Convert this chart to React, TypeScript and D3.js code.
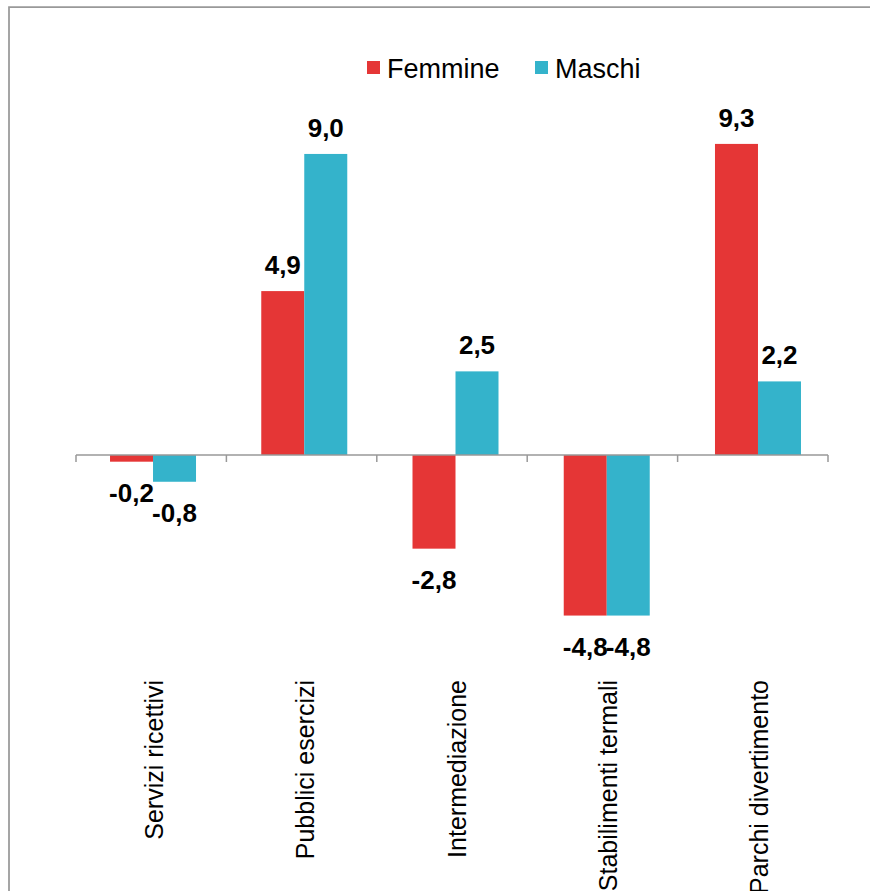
import React, { useEffect, useRef } from 'react';
import * as d3 from 'd3';

const categories = [
    'Servizi ricettivi',
    'Pubblici esercizi',
    'Intermediazione',
    'Stabilimenti termali',
    'Parchi divertimento',
];
const seriesNames = ['Femmine', 'Maschi'];
const femmine = [-0.2, 4.9, -2.8, -4.8, 9.3];
const maschi = [-0.8, 9.0, 2.5, -4.8, 2.2];
const colors = ['#e53636', '#34b3cb'];

const width = 870;
const height = 891;
const font = '"Liberation Sans", Arial, sans-serif';

const fmt = (v: number) => v.toFixed(1).replace('.', ',');

const App: React.FC = () => {
    const svgRef = useRef<SVGSVGElement>(null);

    useEffect(() => {
        if (!svgRef.current) return;

        const svg = d3.select(svgRef.current);
        svg.selectAll('*').remove();

        // outer frame: only the top and left edges are inside the picture
        svg.append('path')
            .attr('d', `M9,${height}V7H${width}`)
            .attr('fill', 'none')
            .attr('stroke', '#999')
            .attr('stroke-width', 1.75);

        // axis bands and bar bands are a touch different in the original
        const xAxis = d3.scaleBand<string>()
            .domain(categories)
            .range([76, 828])
            .padding(0);

        const x = d3.scaleBand<string>()
            .domain(categories)
            .range([77.4, 833.6])
            .padding(0);

        const y = d3.scaleLinear()
            .domain([-6, 10])
            .range([455 + 6 * 33.45, 455 - 10 * 33.45]);

        const barW = 43;
        const series = [femmine, maschi];

        series.forEach((vals, si) => {
            const g = svg.append('g');
            g.selectAll('rect')
                .data(vals)
                .join('rect')
                .attr('x', (_, i) => x(categories[i])! + x.bandwidth() / 2 - barW + si * barW)
                .attr('y', d => y(Math.max(0, d)))
                .attr('width', barW)
                .attr('height', d => Math.abs(y(d) - y(0)))
                .attr('fill', colors[si]);

            g.selectAll('text')
                .data(vals)
                .join('text')
                .attr('x', (_, i) => x(categories[i])! + x.bandwidth() / 2 - barW / 2 + si * barW)
                .attr('y', d => d >= 0 ? y(d) - 17 : y(d) + 40)
                .attr('text-anchor', 'middle')
                .attr('font-family', font)
                .attr('font-weight', 'bold')
                .attr('font-size', 26)
                .attr('fill', '#000')
                .text(d => fmt(d));
        });

        // category axis at zero
        const axis = svg.append('g');
        axis.append('line')
            .attr('x1', 76).attr('x2', 828)
            .attr('y1', y(0)).attr('y2', y(0))
            .attr('stroke', '#999')
            .attr('stroke-width', 1.5);

        const ticks = categories.map(c => xAxis(c)!).concat([828]);
        axis.selectAll('line.tick')
            .data(ticks)
            .join('line')
            .attr('class', 'tick')
            .attr('x1', d => d).attr('x2', d => d)
            .attr('y1', y(0)).attr('y2', y(0) + 7)
            .attr('stroke', '#999')
            .attr('stroke-width', 1.5);

        svg.append('g')
            .selectAll('text')
            .data(categories)
            .join('text')
            .attr('transform', d => `translate(${x(d)! + x.bandwidth() / 2 + 10},680) rotate(-90)`)
            .attr('text-anchor', 'end')
            .attr('font-family', font)
            .attr('font-size', 25)
            .attr('fill', '#000')
            .text(d => d);

        // legend
        const legendX = [367, 535];
        const legend = svg.append('g');
        seriesNames.forEach((name, i) => {
            legend.append('rect')
                .attr('x', legendX[i])
                .attr('y', 61)
                .attr('width', 13)
                .attr('height', 13)
                .attr('fill', colors[i]);
            legend.append('text')
                .attr('x', legendX[i] + 20)
                .attr('y', 78)
                .attr('font-family', font)
                .attr('font-size', 27)
                .attr('fill', '#000')
                .text(name);
        });
    }, []);

    return (
        <svg
            ref={svgRef}
            width={width}
            height={height}
            style={{ position: 'absolute', left: 0, top: 0, background: 'white' }}
        ></svg>
    );
};

export default App;
